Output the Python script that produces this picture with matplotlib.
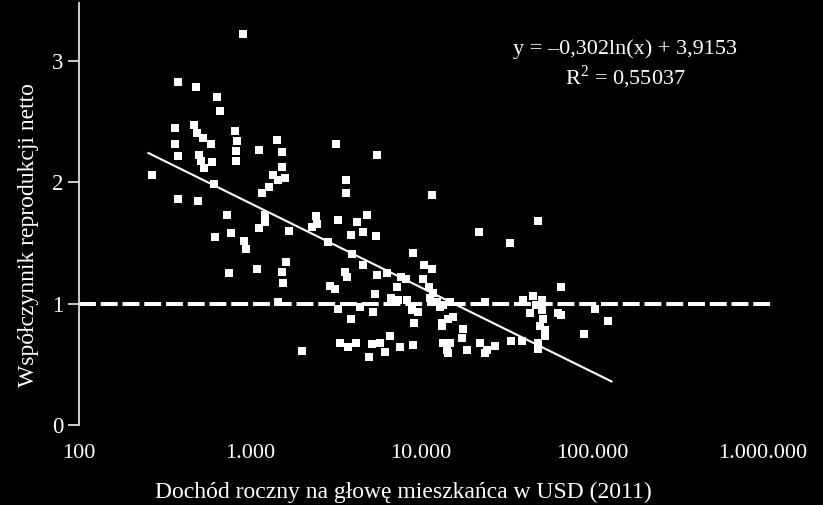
import numpy as np
import matplotlib
matplotlib.use('Agg')
from matplotlib import pyplot as plt

plt.rcParams['font.family'] = ['Liberation Serif', 'DejaVu Serif']
plt.rcParams['mathtext.fontset'] = 'custom'
plt.rcParams['mathtext.rm'] = 'Liberation Serif'

# dochod roczny na glowe (USD, 2011) i wspolczynnik reprodukcji netto
income = [910, 379, 483, 641, 668, 364, 471, 490, 531, 592,
          817, 839, 364, 379, 503, 517, 600, 538, 828, 828,
          1129, 1439, 1538, 1538, 1363, 1603, 1458, 1292, 1175, 267,
          616, 379, 497, 734, 1224, 2432, 1224, 1129, 624, 774,
          923, 948, 1691, 2466, 2305, 3272, 4223, 4833, 3896, 4580,
          5456, 2858, 3949, 4580, 754, 1099, 1624, 1538, 1560, 2937,
          3142, 3594, 3691, 5530, 5383, 1458, 3272, 4397, 5240, 3896,
          2015, 3360, 3741, 4169, 5169, 4966, 3184, 5530, 3640, 3640,
          11596, 21840, 8980, 10410, 11596, 6326, 7638, 8170, 10270, 7240,
          11140, 11750, 6676, 7336, 8280, 11290, 12400, 13450, 14780, 23680,
          8860, 9605, 9100, 13270, 14390, 15390, 17610, 17380, 5757, 6586,
          6160, 7540, 8980, 13450, 14780, 14190, 18570, 22130, 24320, 33150,
          48330, 12910, 13270, 14390, 23680, 27080, 33600, 38960, 39490, 45180,
          51020, 43390, 51020, 51640, 53060, 53060, 48330, 48330, 63260, 65860,
          104100, 124100, 89780, 47080, 49640, 65860]
nrr = [3.22, 2.83, 2.79, 2.70, 2.59, 2.45, 2.47, 2.41, 2.37, 2.32,
       2.42, 2.34, 2.32, 2.22, 2.23, 2.18, 2.17, 2.12, 2.26, 2.18,
       2.27, 2.35, 2.25, 2.13, 2.06, 2.04, 2.02, 1.96, 1.91, 2.06,
       1.99, 1.86, 1.85, 1.73, 1.73, 1.72, 1.67, 1.62, 1.55, 1.58,
       1.52, 1.45, 1.60, 1.66, 1.63, 1.69, 1.67, 1.73, 1.57, 1.59,
       1.56, 1.51, 1.41, 1.32, 1.25, 1.29, 1.34, 1.26, 1.17, 1.15,
       1.12, 1.26, 1.22, 1.24, 1.08, 1.01, 0.96, 0.97, 0.93, 0.87,
       0.61, 0.68, 0.64, 0.68, 0.67, 0.56, 2.32, 2.23, 2.02, 1.91,
       1.90, 1.59, 1.42, 1.32, 1.29, 1.25, 1.22, 1.20, 1.20, 1.14,
       1.14, 1.09, 1.05, 1.03, 1.03, 1.05, 1.01, 0.99, 1.01, 1.01,
       0.95, 0.93, 0.84, 0.84, 0.87, 0.89, 0.79, 0.72, 0.68, 0.73,
       0.60, 0.64, 0.66, 0.68, 0.68, 0.62, 0.62, 0.68, 0.62, 1.50,
       1.68, 0.97, 0.82, 0.59, 0.59, 0.65, 0.69, 0.69, 1.03, 1.06,
       1.03, 0.92, 0.95, 0.87, 0.78, 0.73, 0.68, 0.63, 0.92, 1.14,
       0.96, 0.86, 0.75, 0.99, 0.82, 0.91]

# linia trendu logarytmicznego
slope = -0.302
intercept = 3.9153
r2 = 0.55037
trend_range = [255, 130000]

x_ticks = [100, 1000, 10000, 100000, 1000000]
x_ticklabels = ['100', '1.000', '10.000', '100.000', '1.000.000']
y_ticks = [0, 1, 2, 3]

fig = plt.figure(figsize=(8.23, 5.05), dpi=100, facecolor='black')
ax = fig.add_axes([79/823, 80/505, 693/823, 422/505], facecolor='black')

ax.set_xscale('log')
ax.set_xlim(100, 10**(2 + 693/171))
ax.set_ylim(0, 422/121.3)

ax.axhline(1, color='white', lw=2.9, dashes=(4.2, 1.2), solid_capstyle='butt',
           dash_capstyle='butt', zorder=1)

ax.scatter(income, nrr, marker='s', s=38, c='white', linewidths=0, zorder=2)

tx = np.logspace(np.log10(trend_range[0]), np.log10(trend_range[1]), 50)
ax.plot(tx, slope*np.log(tx) + intercept, color='white', lw=1.5, zorder=3)

ax.text(0.788, 0.89, 'y = \u20130,302ln(x) + 3,9153', transform=ax.transAxes,
        ha='center', va='center', color='white', fontsize=16)
ax.text(0.788, 0.825, 'R$^{\\mathrm{2}}$ = 0,55037', transform=ax.transAxes,
        ha='center', va='center', color='white', fontsize=16)

for s in ['top', 'right', 'bottom']:
    ax.spines[s].set_visible(False)
ax.spines['left'].set_color('#dddddd')
ax.spines['left'].set_linewidth(1.3)

ax.set_xticks(x_ticks)
ax.set_xticklabels(x_ticklabels)
ax.xaxis.set_minor_locator(matplotlib.ticker.NullLocator())
ax.tick_params(axis='x', length=0, pad=14, colors='white', labelsize=16)
ax.set_yticks(y_ticks)
ax.tick_params(axis='y', length=8, width=1.3, pad=3, colors='#dddddd',
               labelcolor='white', labelsize=16.5)

ax.set_xlabel('Dochód roczny na głowę mieszkańca w USD (2011)', color='white',
              fontsize=17)
ax.xaxis.set_label_coords(0.4675, -0.135)
ax.set_ylabel('Współczynnik reprodukcji netto', color='white', fontsize=17)
ax.yaxis.set_label_coords(-0.058, 0.45)

fig.savefig('out.png', dpi=100, facecolor='black')
